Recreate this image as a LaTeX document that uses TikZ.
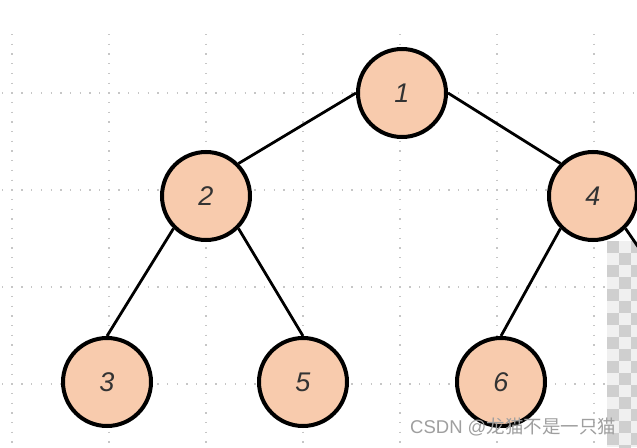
\documentclass[tikz,border=0pt]{standalone}
\usepackage{fontspec}
\setmainfont{Liberation Sans}
\newfontfamily\cjk{Noto Sans CJK SC}
\begin{document}
\begin{tikzpicture}[x=1pt,y=-1pt,
  tnode/.style={circle,draw=black,line width=4pt,fill=nodefill,minimum size=88pt,inner sep=0pt,
    font=\fontsize{27}{27}\selectfont\itshape,text=black!80},
  tedge/.style={line width=2.8pt,black},
  gridln/.style={gray!45,line width=1.3pt,dash pattern=on 1.3pt off 8.4pt}]
\definecolor{nodefill}{HTML}{F8CBAD}
\useasboundingbox (0,0) rectangle (637,447);
\fill[white] (0,0) rectangle (637,447);
% dotted grid
\foreach \gx in {12,109,206,303,400,497,594} \draw[gridln] (\gx,34) -- (\gx,447);
\foreach \gy in {93,190,287,384} \draw[gridln] (2,\gy) -- (637,\gy);
% checkerboard
\begin{scope}
\clip (607,241) rectangle (637,447);
\fill[gray!12] (607,241) rectangle (637,447);
\foreach \i in {0,...,2} \foreach \j in {0,...,17} {
  \pgfmathtruncatemacro{\parity}{mod(\i+\j,2)}
  \ifnum\parity=0 \fill[gray!38] (607+12*\i,241+12*\j) rectangle ++(12,12); \fi
}
\end{scope}
% nodes
\node[tnode] (n1) at (402,93) {1};
\node[tnode] (n2) at (206,196) {2};
\node[tnode] (n4) at (593,196) {4};
\node[tnode] (n3) at (107,382) {3};
\node[tnode] (n5) at (303,382) {5};
\node[tnode] (n6) at (501,382) {6};
\coordinate (n7) at (700,337);
\draw[tedge] (n1.west) -- (n2.north east);
\draw[tedge] (n1.east) -- (n4.north west);
\draw[tedge] (n2.south west) -- (n3.north);
\draw[tedge] (n2.south east) -- (n5.north);
\draw[tedge] (n4.south west) -- (n6.north);
\draw[tedge] (n4.south east) -- (n7);
% watermark
\node[anchor=west,inner sep=0pt,text=gray!75,font=\fontsize{18.5}{18.5}\selectfont] (wm) at (410,427) {CSDN @{\cjk 龙猫不是一只猫}};
\end{tikzpicture}
\end{document}
